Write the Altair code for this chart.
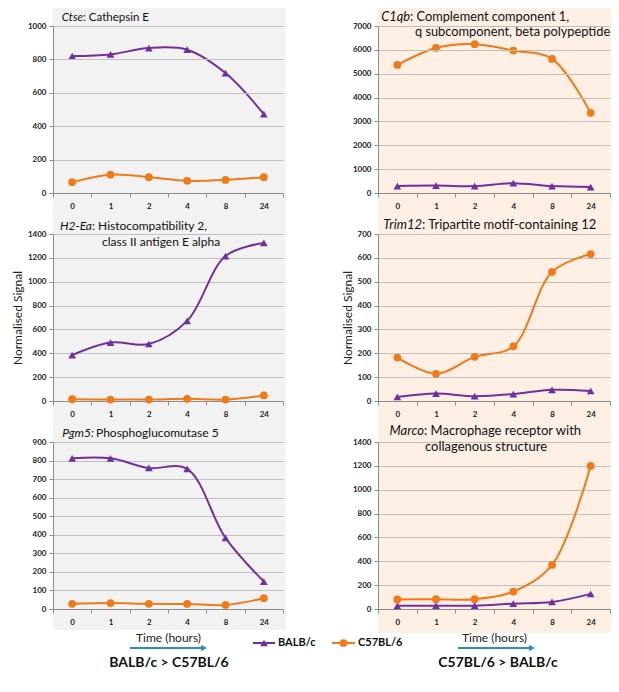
import altair as alt
import pandas as pd

# ---------------- data ----------------
TIMES = ["0", "1", "2", "4", "8", "24"]
STRAINS = ["BALB/c", "C57BL/6"]
COLORS = ["#7030A0", "#F07A18"]
SHAPES = ["triangle-up", "circle"]

ctse_balb = [820, 830, 868, 858, 718, 472]
ctse_c57 = [65, 110, 95, 73, 78, 95]

h2ea_balb = [385, 490, 478, 672, 1215, 1325]
h2ea_c57 = [15, 12, 12, 18, 12, 47]

pgm5_balb = [812, 812, 760, 755, 383, 148]
pgm5_c57 = [28, 32, 28, 27, 22, 58]

c1qb_balb = [290, 310, 290, 410, 290, 250]
c1qb_c57 = [5370, 6080, 6240, 5970, 5620, 3360]

trim12_balb = [17, 31, 20, 29, 47, 42]
trim12_c57 = [182, 114, 185, 229, 541, 616]

marco_balb = [27, 28, 28, 45, 59, 127]
marco_c57 = [80, 82, 82, 146, 369, 1199]

Y_MAX = [1000, 1400, 900, 7000, 700, 1400]
Y_STEP = [200, 200, 100, 1000, 100, 200]

TITLE_GENE = ["Ctse", "H2-Ea", "Pgm5:", "C1qb", "Trim12", "Marco"]
TITLE_REST = [": Cathepsin E", ": Histocompatibility 2,", "Phosphoglucomutase 5",
              ": Complement component 1,", ": Tripartite motif-containing 12",
              ": Macrophage receptor with"]
TITLE_LINE2 = ["", "class II antigen E alpha", "", "q subcomponent, beta polypeptide",
               "", "collagenous structure"]
CAPTIONS = ["BALB/c > C57BL/6", "C57BL/6 > BALB/c"]
X_TITLE = "Time (hours)"
Y_TITLE = "Normalised Signal"

SERIES = [(ctse_balb, ctse_c57), (h2ea_balb, h2ea_c57), (pgm5_balb, pgm5_c57),
          (c1qb_balb, c1qb_c57), (trim12_balb, trim12_c57), (marco_balb, marco_c57)]

# ---------------- style ----------------
FONT = "Lato"
GRID = "#C0C0C0"
AXISC = "#8C8C8C"
BG = ["#F2F2F2", "#FDEFE4"]
ARROW = "#2A8BD2"
LW, RW, PH = 230, 232, 167

# title text: (x of colon, baseline y, line-2 x, line-2 y, line-2 align, font size)
TPOS = [
    (30, -5, None, None, None, 11.5),
    (39, -4, 108, 12, "center", 12),
    (41, -5, None, None, None, 12),
    (32, -5, 37, 10, "left", 12.8),
    (44, -5, None, None, None, 13),
    (46, -7, 108, 9, "center", 13),
]
# legend item layout (line start, line end, text x) relative to bottom-left plot
LEG_X = [(200, 222, 225), (279, 302, 305)]


def one(value):
    return pd.DataFrame({"t": [value]})


def panel(i, width, bg=None, bg_right=None, bg_bottom=None, ytitle=None, bottom=None,
          legend=False):
    balb, c57 = SERIES[i]
    rows = []
    for k, t in enumerate(TIMES):
        rows.append({"time": t, "idx": k, "strain": STRAINS[0], "value": balb[k]})
        rows.append({"time": t, "idx": k, "strain": STRAINS[1], "value": c57[k]})
    df = pd.DataFrame(rows)

    z = 1 if bg is not None else 0
    ticks = list(range(0, Y_MAX[i] + 1, Y_STEP[i]))

    x = alt.X("time:N", bandPosition=0.5,
              scale=alt.Scale(type="band", domain=TIMES, paddingInner=0, paddingOuter=0),
              axis=alt.Axis(tickBand="extent", grid=False, labelAngle=0, labelPadding=5,
                            title=X_TITLE if bottom is not None else None,
                            titlePadding=6, zindex=z))
    y = alt.Y("value:Q", scale=alt.Scale(domain=[0, Y_MAX[i]], nice=False, zero=True),
              axis=alt.Axis(values=ticks, format="d", grid=True, title=ytitle, titlePadding=3,
                            labelPadding=3, zindex=z))
    color = alt.Color("strain:N", scale=alt.Scale(domain=STRAINS, range=COLORS), legend=None)

    base = alt.Chart(df)
    layers = []
    if bg is not None:
        layers.append(alt.Chart(one(0)).mark_rect(color=bg).encode(
            x=alt.value(0), x2=alt.value(width + bg_right), y=alt.value(-22),
            y2=alt.value(bg_bottom)))
    line = base.mark_line(interpolate="catmull-rom", strokeWidth=2).encode(
        x=x, y=y, color=color, detail="strain:N", order="idx:Q")
    layers.append(line)
    for s in range(2):
        layers.append(base.transform_filter(alt.datum.strain == STRAINS[s]).mark_point(
            filled=True, opacity=1, shape=SHAPES[s], size=60).encode(x=x, y=y, color=color))

    cx, cy, l2x, l2y, l2a, fs = TPOS[i]
    layers.append(alt.Chart(one(TITLE_GENE[i])).mark_text(
        font=FONT, fontSize=fs, fontStyle="italic", align="right", baseline="alphabetic",
        color="#111").encode(text="t:N", x=alt.value(cx), y=alt.value(cy)))
    rest_x = cx + (2 if TITLE_GENE[i].endswith(":") else 0)
    layers.append(alt.Chart(one(TITLE_REST[i])).mark_text(
        font=FONT, fontSize=fs, align="left", baseline="alphabetic",
        color="#111").encode(text="t:N", x=alt.value(rest_x), y=alt.value(cy)))
    if TITLE_LINE2[i]:
        layers.append(alt.Chart(one(TITLE_LINE2[i])).mark_text(
            font=FONT, fontSize=fs, align=l2a, baseline="alphabetic",
            color="#111").encode(text="t:N", x=alt.value(l2x), y=alt.value(l2y)))

    if bottom is not None:
        ax0, ax1, capx = bottom
        layers.append(alt.Chart(one(0)).mark_rule(color=ARROW, strokeWidth=2).encode(
            x=alt.value(ax0), x2=alt.value(ax1), y=alt.value(PH + 39)))
        layers.append(alt.Chart(one(0)).mark_point(
            shape="triangle-right", filled=True, opacity=1, size=45, color=ARROW).encode(
            x=alt.value(ax1), y=alt.value(PH + 39)))
        layers.append(alt.Chart(one(CAPTIONS[0] if i < 3 else CAPTIONS[1])).mark_text(
            font=FONT, fontSize=14, fontWeight="bold", align="center", baseline="middle",
            color="#111").encode(text="t:N", x=alt.value(capx), y=alt.value(PH + 54)))

    if legend:
        ly = PH + 34
        for s in range(2):
            l0, l1, tx = LEG_X[s]
            ldf = pd.DataFrame({"strain": [STRAINS[s]]})
            lc = alt.Chart(ldf)
            layers.append(lc.mark_rule(color=COLORS[s], strokeWidth=2).encode(
                x=alt.value(l0), x2=alt.value(l1), y=alt.value(ly)))
            layers.append(lc.mark_point(shape=SHAPES[s], filled=True, opacity=1, size=60,
                                        color=COLORS[s]).encode(
                x=alt.value((l0 + l1) / 2), y=alt.value(ly)))
            layers.append(lc.mark_text(font=FONT, fontSize=11, fontWeight="bold", align="left",
                                       baseline="middle", color="#111").encode(
                text="strain:N", x=alt.value(tx), y=alt.value(ly)))

    return alt.layer(*layers).properties(width=width, height=PH)


panels = [
    panel(0, LW, bg=BG[0], bg_right=3, bg_bottom=604),
    panel(3, RW, bg=BG[1], bg_right=1, bg_bottom=607),
    panel(1, LW, ytitle=Y_TITLE),
    panel(4, RW, ytitle=Y_TITLE),
    panel(2, LW, bottom=(77, 151, 116), legend=True),
    panel(5, RW, bottom=(80, 154, 120)),
]

chart = alt.ConcatChart(
    concat=panels, columns=2, bounds="flush", align="each",
    spacing=alt.RowColnumber(row=41, column=95),
).properties(
    padding={"top": -4, "left": 3, "right": 0, "bottom": -3}
).configure_view(stroke=None).configure_axis(
    labelFont=FONT, labelFontWeight="bold", labelFontSize=8, labelColor="#222",
    domainColor=AXISC, tickColor=AXISC, gridColor=GRID, gridWidth=1, tickSize=4,
    titleFont=FONT, titleFontWeight="normal", titleFontSize=12, titleColor="#222"
)

chart.save("out.html", embed_options={"renderer": "svg", "actions": False})
